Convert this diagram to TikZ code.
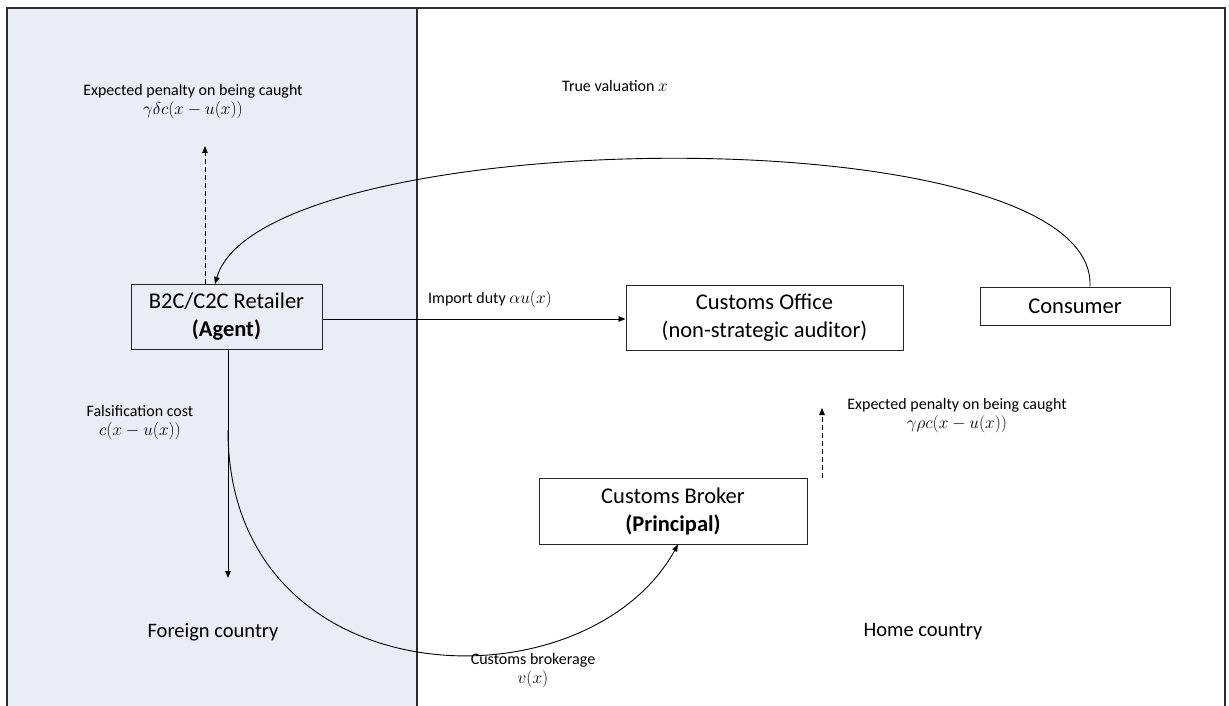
\documentclass[tikz,border=0pt]{standalone}
\usepackage{fontspec}
\setmainfont{Carlito}
\usetikzlibrary{arrows.meta}
\definecolor{panel}{RGB}{233,237,246}
\definecolor{frame}{RGB}{45,45,45}
\begin{document}
\begin{tikzpicture}[x=1pt,y=-1pt,
  box/.style={draw=black!85, line width=1pt, align=center, inner sep=0pt, font=\fontsize{22.5}{28}\selectfont},
  lbl/.style={align=center, font=\fontsize{16}{19}\selectfont, inner sep=0pt},
  big/.style={font=\fontsize{20.5}{24}\selectfont, inner sep=0pt},
  arr/.style={-{Triangle[length=7pt,width=5.5pt]}, line width=0.9pt},
  dsh/.style={arr, dash pattern=on 5pt off 3pt}]
\useasboundingbox (0,0) rectangle (1229,706);
\fill[panel] (7,8) rectangle (417,712);
\draw[frame, line width=2pt] (7,712) -- (7,8) -- (1225,8) -- (1225,712);
\draw[frame, line width=1.6pt] (417,8) -- (417,712);

% boxes
\node[box, minimum width=191pt, minimum height=65pt] (retailer) at (226.5,317) {B2C/C2C Retailer\\\textbf{(Agent)}};
\node[box, minimum width=277pt, minimum height=65pt] (office) at (764.5,317.5) {Customs Office\\(non-strategic auditor)};
\node[box, minimum width=190pt, minimum height=38pt] (consumer) at (1075,306) {Consumer};
\node[box, minimum width=268pt, minimum height=66pt] (broker) at (673,511) {Customs Broker\\\textbf{(Principal)}};

% labels
\node[lbl] (penA) at (193,102) {Expected penalty on being caught\\$\gamma\delta c(x-u(x))$};
\node[lbl] (penB) at (957,416) {Expected penalty on being caught\\$\gamma\rho c(x-u(x))$};
\node[lbl] (fals) at (140,423) {Falsification cost\\$c(x-u(x))$};
\node[lbl] (duty) at (490,299) {Import duty $\alpha u(x)$};
\node[lbl] (brok) at (533,671) {Customs brokerage\\$v(x)$};
\node[lbl] (tv) at (615,86) {True valuation $x$};
\node[big] (foreign) at (213,632) {Foreign country};
\node[big] (home) at (923,632) {Home country};

% free-end coordinates
\coordinate (tipA) at (205,146);
\coordinate (tipB) at (822,408);
\coordinate (baseB) at (822,478);
\coordinate (dutyY) at (0,319);
\coordinate (tvEnd) at (215,0);
\coordinate (cStart) at (1090,0);
\coordinate (falsEnd) at (228,578);
\coordinate (brkStart) at (228,430);
\coordinate (brkEnd) at (678,0);

% connectors
\draw[dsh] (retailer.north -| tipA) -- (tipA);
\draw[dsh] (baseB) -- (tipB);
\draw[arr] (retailer.east |- dutyY) -- (office.west |- dutyY);
\draw[arr] (consumer.north -| cStart) .. controls (1098,112) and (262,122) .. (retailer.north -| tvEnd);
\draw[arr] (retailer.south -| falsEnd) -- (falsEnd);
\draw[arr] (brkStart) .. controls (228,700) and (585,712) .. (broker.south -| brkEnd);
\end{tikzpicture}
\end{document}
